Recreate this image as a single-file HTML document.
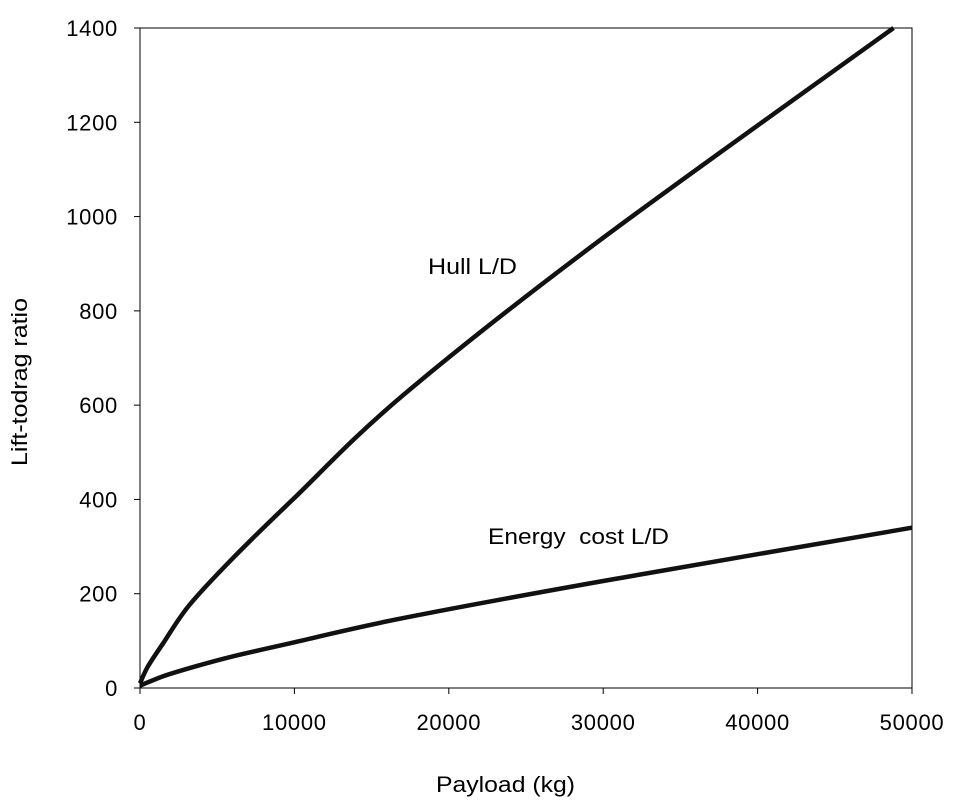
<!DOCTYPE html>
<html><head><meta charset="utf-8"><style>
body{margin:0;background:#fff}
svg{display:block;font-family:"Liberation Sans",sans-serif}
</style></head><body>
<svg id="chart" width="966" height="811">
<rect x="140" y="28" width="772" height="660" fill="#fff" stroke="#000" stroke-width="1"/>
<g id="axes"></g>
<g id="series"></g>
<text x="428" y="274" font-size="22" textLength="89" lengthAdjust="spacingAndGlyphs">Hull L/D</text>
<text x="488" y="544" font-size="22" textLength="181" lengthAdjust="spacingAndGlyphs">Energy &#160;cost L/D</text>
<text x="436" y="792" font-size="22" textLength="139" lengthAdjust="spacingAndGlyphs">Payload (kg)</text>
<text transform="translate(27,466) rotate(-90)" font-size="22" textLength="168" lengthAdjust="spacingAndGlyphs">Lift-todrag ratio</text>
</svg>
<script>
const xTicks=[0,10000,20000,30000,40000,50000];
const yTicks=[0,200,400,600,800,1000,1200,1400];
const hullX=[0,500,1500,3200,6000,9900,17000,29800,48800];
const hullY=[10,45,95,176,275,400,620,950,1400];
const energyX=[0,1500,3500,6000,10000,17000,30000,50000];
const energyY=[5,25,45,67,97,148,227,340];
const X=v=>140+v/50000*772, Y=v=>688-v/1400*660;
const NS="http://www.w3.org/2000/svg";
const axes=document.getElementById('axes'), series=document.getElementById('series');
function mk(tag,attrs,parent){const e=document.createElementNS(NS,tag);for(const k in attrs)e.setAttribute(k,attrs[k]);parent.appendChild(e);return e;}
xTicks.forEach(t=>{
 const l=mk('line',{x1:X(t),x2:X(t),y1:688,y2:694,stroke:'#000'},axes);
 
 
 const tx=mk('text',{x:X(t),y:730,'font-size':22,'text-anchor':'middle','letter-spacing':0.7},axes);tx.textContent=t;
 
 
});
yTicks.forEach(t=>{
 const l=mk('line',{x1:134,x2:140,y1:Y(t),y2:Y(t),stroke:'#000'},axes);
 
 
 const tx=mk('text',{x:118,y:Y(t)+8,'font-size':22,'text-anchor':'end','letter-spacing':0.7},axes);tx.textContent=t;
 
 
});
function line(xs,ys,name){
 const p=xs.map((x,i)=>[X(x),Y(ys[i])]);
 let d='M'+p[0][0].toFixed(1)+','+p[0][1].toFixed(1);
 for(let i=0;i<p.length-1;i++){
  const p0=p[Math.max(0,i-1)],p1=p[i],p2=p[i+1],p3=p[Math.min(p.length-1,i+2)];
  const c1=[p1[0]+(p2[0]-p0[0])/6,p1[1]+(p2[1]-p0[1])/6];
  const c2=[p2[0]-(p3[0]-p1[0])/6,p2[1]-(p3[1]-p1[1])/6];
  d+='C'+c1.map(v=>v.toFixed(1)).join(',')+' '+c2.map(v=>v.toFixed(1)).join(',')+' '+p2.map(v=>v.toFixed(1)).join(',');
 }
 const path=mk('path',{d:d,fill:'none',stroke:'#111','stroke-width':4.5,'stroke-linejoin':'round'},series);
 
 
}
line(hullX,hullY,'hull-ld-line');
line(energyX,energyY,'energy-cost-ld-line');
</script>
</body></html>
